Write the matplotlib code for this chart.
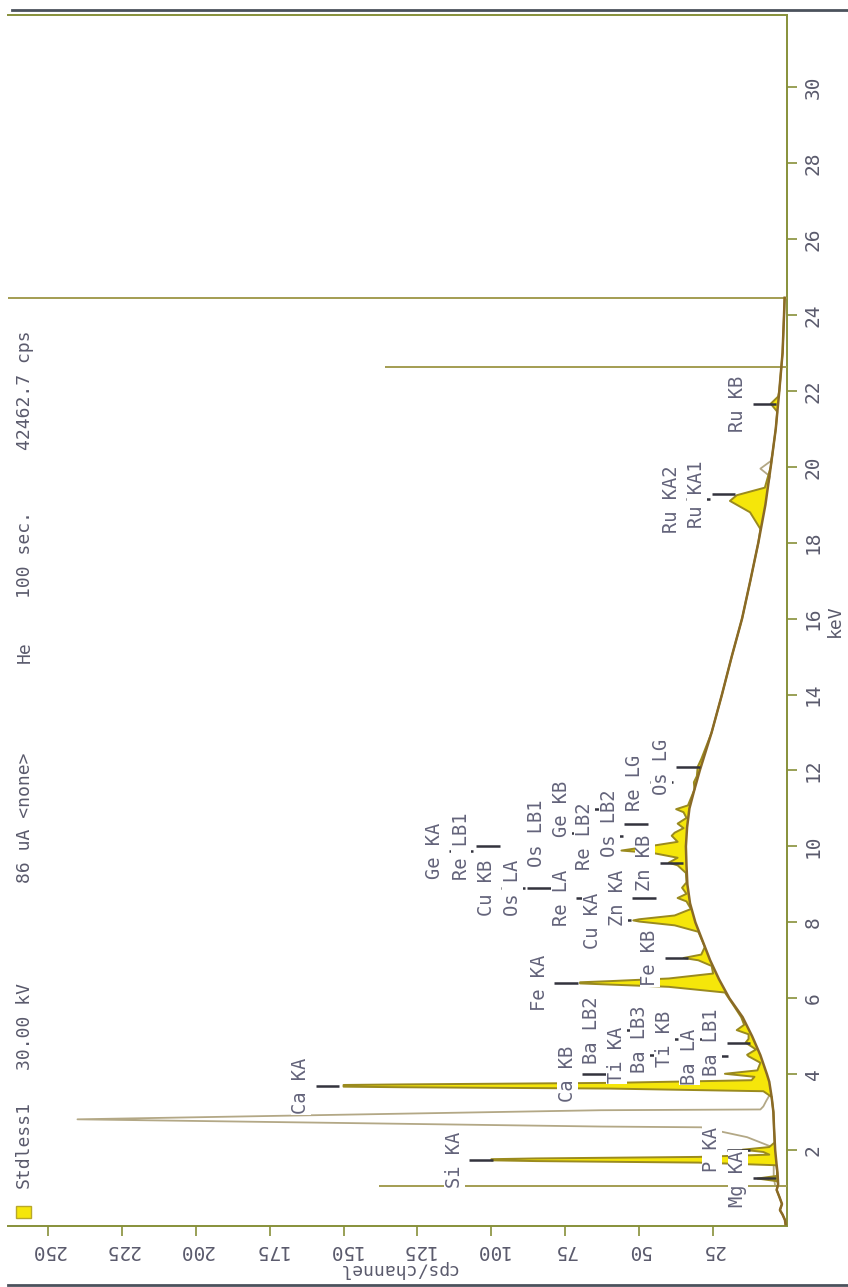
import matplotlib
matplotlib.use("Agg")
from matplotlib import pyplot as plt
from matplotlib.lines import Line2D
from matplotlib.patches import Rectangle
import numpy as np

# continuum (background fit) under the spectrum
bg_kev = [0.05, 0.16, 0.30, 0.42, 0.58, 0.75, 0.95, 1.10, 1.40, 1.60, 2.00, 2.30, 2.60,
          3.00, 3.40, 3.80, 4.00, 4.50, 5.00, 5.50, 6.00, 6.50, 7.00, 7.50, 8.00, 8.50,
          9.00, 9.50, 10.00, 10.50, 11.00, 11.50, 12.00, 13.00, 14.00, 15.00, 16.00,
          17.00, 18.00, 19.00, 20.00, 21.00, 22.00, 23.00, 24.00, 24.45]
bg_cps = [0.5, 0.7, 1.5, 2.4, 1.7, 2.5, 3.5, 3.0, 3.2, 3.5, 4.0, 4.2, 4.4,
          4.6, 5.2, 6.0, 6.8, 9.0, 11.8, 15.0, 19.5, 23.0, 26.0, 28.5, 31.0, 32.8,
          33.7, 34.0, 34.2, 33.8, 33.0, 31.3, 29.5, 25.5, 22.0, 18.7, 15.2,
          12.4, 9.7, 7.3, 5.5, 3.8, 2.6, 1.5, 1.0, 0.8]

# measured spectrum
spec_kev = [0.05, 0.16, 0.30, 0.42, 0.58, 0.75, 0.95, 1.10,
            1.18, 1.25, 1.32, 1.45,
            1.60, 1.67, 1.71, 1.73, 1.76, 1.78, 1.82, 1.88,
            1.95, 2.01, 2.08, 2.20, 2.60, 3.00, 3.40,
            3.55, 3.62, 3.655, 3.67, 3.715, 3.73, 3.77, 3.84,
            3.93, 4.01, 4.10, 4.30, 4.47, 4.51, 4.65,
            4.83, 4.93, 5.05, 5.16, 5.30, 5.50, 5.80,
            6.15, 6.30, 6.36, 6.39, 6.42, 6.45, 6.52, 6.65, 6.85,
            7.00, 7.06, 7.15, 7.35, 7.75,
            7.92, 8.02, 8.05, 8.08, 8.18, 8.35,
            8.55, 8.64, 8.75, 8.91, 9.05, 9.30,
            9.50, 9.57, 9.70, 9.82, 9.89, 9.96, 10.01, 10.12,
            10.28, 10.36, 10.48, 10.60, 10.75, 10.90, 10.98, 11.08,
            11.50, 11.69, 11.85, 12.10, 12.30,
            13.00, 14.00, 15.00, 16.00, 17.00, 18.00,
            18.36, 18.80, 19.10, 19.25, 19.45, 20.00, 21.00,
            21.45, 21.66, 21.85, 22.00, 23.00, 24.00, 24.45]
spec_cps = [0.5, 0.7, 1.5, 2.4, 1.7, 2.5, 3.5, 3.0,
            3.3, 10.0, 3.4, 3.4,
            3.6, 30.0, 85.0, 100.0, 100.0, 85.0, 30.0, 6.0,
            8.0, 15.0, 6.0, 4.2, 4.4, 4.6, 5.2,
            8.0, 60.0, 130.0, 150.0, 150.0, 130.0, 60.0, 12.0,
            11.0, 21.0, 10.0, 9.0, 13.0, 13.5, 10.5,
            14.0, 13.0, 13.0, 17.0, 14.5, 15.5, 18.0,
            21.0, 40.0, 60.0, 70.0, 70.0, 60.0, 40.0, 25.0, 25.5,
            30.0, 35.0, 29.0, 27.8, 30.0,
            38.0, 50.0, 52.0, 50.0, 38.0, 32.5,
            34.0, 37.0, 34.0, 35.5, 34.0, 34.2,
            37.0, 40.0, 37.0, 45.0, 56.0, 50.0, 46.0, 37.0,
            39.0, 38.0, 35.0, 37.0, 34.0, 35.0, 37.5, 33.5,
            31.3, 31.5, 30.5, 30.2, 29.0,
            25.5, 22.0, 18.7, 15.2, 12.4, 9.7,
            9.0, 12.5, 19.3, 17.0, 7.5, 5.5, 3.8,
            3.3, 5.5, 3.0, 2.6, 1.5, 1.0, 0.8]

# second trace (tube line wedge near 2.8 keV, small bump near 20 keV)
grey_kev = [1.06, 1.30, 1.60, 1.90, 2.07, 2.34, 2.60, 2.62, 2.81, 3.05, 3.07, 3.15,
            3.30, 3.50, 3.70]
grey_cps = [4.0, 4.5, 4.5, 4.5, 4.7, 13.5, 29.0, 63.0, 240.0, 63.0, 9.0, 8.0,
            7.0, 5.5, 6.0]
bump_kev = [19.60, 19.75, 19.95, 20.15, 20.30]
bump_cps = [6.2, 5.8, 9.0, 5.5, 5.0]

# single-channel spikes
spike_kev = [1.05, 22.62, 24.45]
spike_cps = [138, 136, 270]

# KLM line labels
line_names = ["Mg KA", "Si KA", "P KA", "Ca KA", "Ca KB", "Ba LB2", "Ti KA", "Ba LB3",
              "Ti KB", "Ba LA", "Ba LB1", "Fe KA", "Fe KB", "Cu KA", "Zn KA", "Re LA",
              "Cu KB", "Os LA", "Ge KA", "Re LB1", "Os LB1", "Ge KB", "Re LB2", "Os LB2",
              "Zn KB", "Re LG", "Os LG", "Ru KA2", "Ru KA1", "Ru KB"]
line_kev = [1.254, 1.740, 2.013, 3.691, 4.013, 5.157, 4.511, 4.926,
            4.932, 4.466, 4.828, 6.404, 7.058, 8.048, 8.639, 8.652,
            8.905, 8.911, 9.886, 10.010, 10.355, 10.982, 10.275, 10.598,
            9.572, 11.685, 12.095, 19.150, 19.279, 21.657]
label_cps = [16.6, 112.5, 25.4, 164.4, 74.2, 66.1, 57.6, 49.8,
             41.4, 32.9, 25.4, 83.7, 46.4, 65.8, 57.3, 76.3,
             101.7, 92.9, 119.3, 110.2, 84.7, 76.3, 68.5, 60.0,
             48.1, 51.5, 42.4, 39.0, 30.5, 16.6]

header_text = ["30.00 kV", "86 uA <none>", "He", "100 sec.", "42462.7 cps"]
header_pix = [1026, 818, 652, 554, 390]

kev_ticks = list(range(2, 31, 2))
cps_ticks = list(range(25, 251, 25))

W, H = 848, 1287
OLIVE = "#87903a"
TXT = "#5a5a6c"
MONO = "DejaVu Sans Mono"
plt.rcParams["font.family"] = MONO

fig = plt.figure(figsize=(W / 100, H / 100), dpi=100)
fig.patch.set_facecolor("white")
ax = fig.add_axes([8 / W, 1 - 1226 / H, (787 - 8) / W, (1226 - 15) / H])
ax.set_xlim(263.5, 0)
ax.set_ylim(0, 31.9)

for s in ["top", "right", "bottom"]:
    ax.spines[s].set_color(OLIVE)
    ax.spines[s].set_linewidth(1.4)
ax.spines["left"].set_visible(False)

ax.yaxis.tick_right()
ax.set_yticks(kev_ticks)
ax.set_xticks(cps_ticks)
ax.tick_params(axis="y", direction="out", length=7, width=1.2, color=OLIVE,
               labelsize=14, labelcolor=TXT, labelrotation=90, pad=5)
ax.tick_params(axis="x", direction="out", length=7, width=1.2, color=OLIVE,
               labelsize=14, labelcolor=TXT, labelrotation=180, pad=4)
for lab in ax.get_yticklabels():
    lab.set_va("center")

ax.set_xlabel("cps/channel", rotation=180, fontsize=13, color=TXT, labelpad=0)
ax.yaxis.set_label_position("right")
ax.set_ylabel("keV", rotation=90, fontsize=13, color=TXT, labelpad=2)

# spectrum
ax.plot(grey_cps, grey_kev, color="#b3a886", lw=1.3, zorder=2)
ax.plot(bump_cps, bump_kev, color="#b3a886", lw=1.3, zorder=2)
ax.fill(np.r_[spec_cps, bg_cps[::-1]], np.r_[spec_kev, bg_kev[::-1]],
        color="#f5e60a", lw=0, zorder=3)
ax.plot(spec_cps, spec_kev, color="#9a8a1e", lw=1.4, zorder=4)
ax.plot(bg_cps, bg_kev, color="#8a6a26", lw=1.8, zorder=5)
ax.hlines(spike_kev, 0, spike_cps, color="#a39d52", lw=1.4, zorder=3)

# line markers and labels
ax.hlines(line_kev, np.array(label_cps) - 13, np.array(label_cps) - 5,
          color="#33333d", lw=1.8, zorder=6)
for name, e, c in zip(line_names, line_kev, label_cps):
    ax.text(c, e, name, rotation=90, ha="center", va="center", fontsize=13.5,
            color="#63637a", zorder=7,
            bbox=dict(facecolor="white", edgecolor="none", pad=0.5))

# header / legend
for t, yp in zip(header_text, header_pix):
    fig.text(25 / W, 1 - yp / H, t, rotation=90, ha="center", va="center",
             fontsize=13, color=TXT)
fig.text(24 / W, 1 - 1145 / H, "Stdless1", rotation=90, ha="center", va="center",
         fontsize=13, color=TXT)
fig.add_artist(Rectangle((16 / W, 1 - 1218 / H), 15 / W, 12 / H, transform=fig.transFigure,
                         facecolor="#f5e60a", edgecolor="#b8a82a", lw=1))

# scan edges
fig.add_artist(Line2D([12 / W, 1], [1 - 10 / H, 1 - 10 / H], color="#4b525c", lw=2))
fig.add_artist(Line2D([8 / W, 1], [1 - 1285 / H, 1 - 1285 / H], color="#4b525c", lw=2))

plt.savefig("out.png", dpi=100)
